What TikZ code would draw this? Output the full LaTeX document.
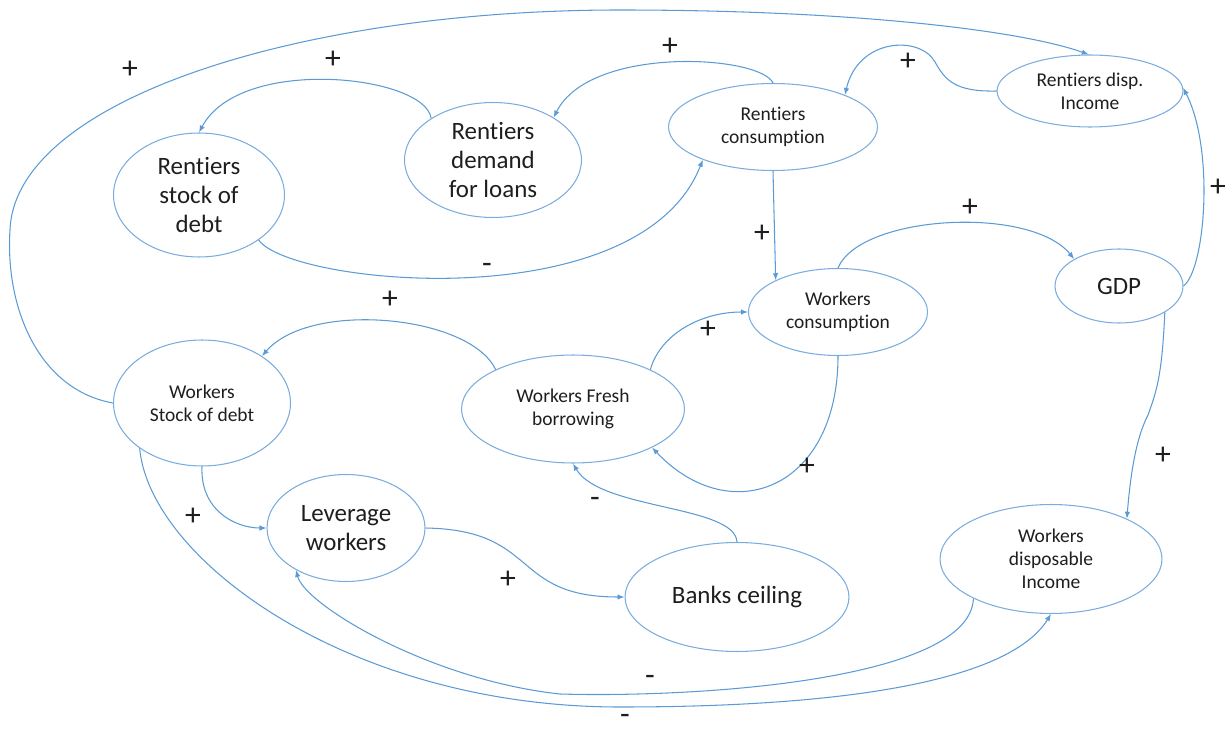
\documentclass[tikz,border=0pt]{standalone}
\usepackage{fontspec}
\setmainfont{Carlito}[Ligatures={NoCommon,NoContextual},RawFeature={-liga;-clig}]
\usetikzlibrary{arrows.meta,shapes.geometric}
\definecolor{lnk}{HTML}{5B9BD5}
\definecolor{elc}{HTML}{7AACDD}
\definecolor{txt}{HTML}{1E1E1E}
\begin{document}
\begin{tikzpicture}[x=0.02cm,y=-0.02cm,
  el/.style={ellipse, draw=elc, line width=0.6pt, inner sep=0pt, inner ysep=-4pt, align=center, text=txt},
  big/.style={font=\fontsize{14.2pt}{16.7pt}\selectfont},
  small/.style={font=\fontsize{11.1pt}{13pt}\selectfont},
  lk/.style={draw=lnk, line width=0.6pt, -{Latex[length=1.4mm,width=1.1mm]}},
  sg/.style={font=\fontsize{18pt}{22pt}\selectfont, text=txt, inner sep=0pt}]
\useasboundingbox (0,0) rectangle (1227,733);
% nodes
\node[el,big,minimum width=3.42cm,minimum height=2.48cm] (rsd) at (199,195) {Rentiers\\stock of\\debt};
\node[el,big,minimum width=3.54cm,minimum height=2.30cm] (rdl) at (493,160) {Rentiers\\demand\\for loans};
\node[el,small,minimum width=4.18cm,minimum height=1.74cm] (rc) at (773,127) {Rentiers\\consumption};
\node[el,small,minimum width=3.72cm,minimum height=1.44cm] (rdi) at (1090,91) {Rentiers disp.\\Income};
\node[el,big,minimum width=2.56cm,minimum height=1.48cm] (gdp) at (1119,286) {GDP};
\node[el,small,minimum width=3.58cm,minimum height=1.74cm] (wc) at (838,312) {Workers\\consumption};
\node[el,small,minimum width=4.46cm,minimum height=2.16cm] (wfb) at (573,409) {Workers Fresh\\borrowing};
\node[el,small,minimum width=3.54cm,minimum height=2.52cm] (wsd) at (202,403) {Workers\\Stock of debt};
\node[el,big,minimum width=3.16cm,minimum height=2.14cm] (lw) at (346,528) {Leverage\\workers};
\node[el,big,minimum width=4.48cm,minimum height=2.18cm] (bc) at (737,597) {Banks ceiling};
\node[el,small,minimum width=4.44cm,minimum height=2.18cm] (wdi) at (1051,559) {Workers\\disposable\\Income};
% connectors
\draw[lk] (rdl.146) .. controls (425,75) and (240,55) .. (rsd.90);
\draw[lk] (rc.90) .. controls (760,55) and (590,45) .. (rdl.35);
\draw[lk] (rsd.-37) .. controls (290,285) and (640,320) .. (rc.205);
\draw[lk] (rdi.180) .. controls (955,92) and (945,80) .. (935,62) .. controls (920,35) and (858,38) .. (rc.24);
\draw[lk] (rc.270) -- (wc.153);
\draw[lk] (wc.90) .. controls (860,215) and (1030,205) .. (gdp.149);
\draw[lk] (gdp.0) .. controls (1205,270) and (1215,150) .. (rdi.2);
\draw[lk] (gdp.-30) .. controls (1162,380) and (1155,395) .. (1148,415) .. controls (1135,440) and (1130,480) .. (wdi.28);
\draw[lk] (wsd.180) .. controls (40,390) and (5,310) .. (10,230) .. controls (15,100) and (300,10) .. (620,10) .. controls (850,10) and (1020,30) .. (rdi.92);
\draw[lk] (wfb.153) .. controls (470,315) and (310,300) .. (wsd.38);
\draw[lk] (wfb.27) .. controls (660,335) and (700,312) .. (wc.180);
\draw[lk] (wc.270) .. controls (838,490) and (730,530) .. (wfb.-26);
\draw[lk] (bc.90) .. controls (735,505) and (600,510) .. (wfb.270);
\draw[lk] (wsd.270) .. controls (200,510) and (235,528) .. (lw.180);
\draw[lk] (lw.0) .. controls (540,530) and (510,597) .. (bc.180);
\draw[lk] (wdi.207) .. controls (970,680) and (700,698) .. (560,694) .. controls (430,680) and (305,605) .. (lw.220);
\draw[lk] (wsd.216) .. controls (150,560) and (350,707) .. (620,707) .. controls (850,707) and (1010,680) .. (wdi.270);
% signs
\node[sg] (s1) at (130,70) {+};
\node[sg] (s2) at (333,60) {+};
\node[sg] (s3) at (670,47) {+};
\node[sg] (s4) at (908,62) {+};
\node[sg] (s5) at (487,268) {-};
\node[sg] (s6) at (762,234) {+};
\node[sg] (s7) at (970,208) {+};
\node[sg] (s8) at (1218,188) {+};
\node[sg] (s9) at (390,300) {+};
\node[sg] (s10) at (708,330) {+};
\node[sg] (s11) at (807,467) {+};
\node[sg] (s12) at (595,502) {-};
\node[sg] (s13) at (193,517) {+};
\node[sg] (s14) at (508,580) {+};
\node[sg] (s15) at (1163,456) {+};
\node[sg] (s16) at (650,680) {-};
\node[sg] (s17) at (625,719) {-};
\end{tikzpicture}
\end{document}
